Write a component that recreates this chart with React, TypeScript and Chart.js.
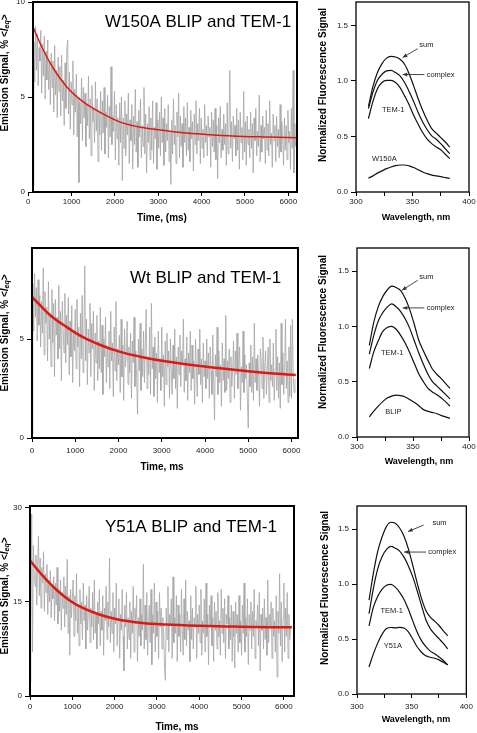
import React, { useEffect, useRef } from "react";
import { Chart, registerables } from "chart.js";

Chart.register(...registerables);

const FONT = "'Liberation Sans', Arial, Helvetica, sans-serif";

// ---------------- kinetic traces (left column) ----------------
const TRACE_STEP_MS = 20;

const W150A_TRACE_START_MS = 110;
const W150A_TRACE = [
  0.3, 7.9, 5.8, 8.7, 6.4, 8.3, 5.6, 7.6, 6.9, 8.5,
  5.2, 7.8, 6.1, 8.2, 4.9, 7.4, 5.9, 8.0, 5.4, 6.8,
  4.6, 7.3, 5.5, 6.9, 4.2, 7.7, 5.1, 6.4, 3.9, 7.1,
  5.3, 6.6, 4.0, 7.2, 4.8, 5.9, 3.5, 6.8, 4.4, 7.5,
  8.0, 4.1, 6.3, 3.3, 5.8, 4.6, 6.9, 3.0, 5.4, 4.2,
  6.2, 2.9, 5.0, 0.5, 4.7, 3.6, 6.0, 2.7, 5.5, 3.9,
  5.2, 2.4, 4.6, 3.5, 6.1, 2.8, 4.9, 1.9, 5.6, 3.7,
  4.4, 2.6, 5.8, 3.2, 4.9, 1.6, 4.3, 3.0, 5.3, 2.2,
  4.8, 3.1, 5.5, 2.0, 4.2, 3.4, 5.1, 1.8, 4.5, 2.9,
  6.6, 2.5, 4.0, 3.2, 5.3, 1.7, 4.6, 2.8, 3.9, 1.4,
  4.7, 2.6, 5.0, 0.6, 3.9, 2.3, 4.8, 1.9, 4.1, 3.0,
  5.2, 1.5, 3.8, 2.7, 4.6, 1.2, 4.0, 2.5, 5.4, 2.1,
  3.7, 1.3, 4.3, 2.9, 4.9, 1.8, 3.5, 2.4, 5.5, 2.0,
  4.1, 1.0, 3.6, 2.6, 4.5, 1.7, 3.9, 2.2, 4.8, 1.5,
  3.4, 2.8, 4.7, 1.2, 3.8, 2.3, 4.2, 1.9, 5.0, 2.6,
  3.9, 1.4, 4.4, 2.1, 3.6, 2.7, 4.6, 1.6, 3.2, 0.4,
  3.8, 2.0, 4.9, 2.5, 3.5, 1.5, 4.2, 2.9, 5.2, 1.8,
  4.0, 2.4, 3.6, 1.3, 4.5, 2.6, 3.9, 1.9, 4.7, 2.2,
  3.4, 1.6, 4.3, 2.8, 3.7, 1.1, 4.1, 2.5, 4.8, 2.0,
  3.6, 2.7, 4.4, 1.5, 3.9, 2.3, 3.3, 1.8, 4.6, 2.6,
  3.5, 1.9, 4.0, 2.9, 3.4, 1.3, 4.2, 2.4, 3.8, 2.1,
  4.4, 1.7, 3.5, 0.7, 3.9, 2.6, 4.5, 1.8, 3.3, 2.2,
  4.1, 2.5, 3.6, 1.4, 4.7, 2.0, 3.2, 6.4, 2.3, 3.7,
  1.6, 4.0, 2.8, 3.5, 1.9, 4.4, 2.2, 3.8, 1.2, 4.2,
  2.6, 3.4, 1.7, 5.3, 2.1, 3.7, 1.4, 4.0, 2.5, 3.3,
  1.8, 4.2, 2.3, 3.6, 1.0, 3.9, 2.7, 4.4, 1.9, 3.2,
  2.4, 5.1, 1.6, 3.5, 2.1, 4.0, 2.8, 3.4, 1.5, 4.3,
  2.2, 3.6, 1.9, 4.8, 2.5, 3.1, 1.3, 4.1, 2.7, 3.5,
  1.6, 4.0, 2.4, 3.3, 1.8, 4.6, 2.1, 3.7, 2.9, 1.4,
  3.9, 2.2, 3.5, 1.7, 4.3, 2.6, 3.2, 1.2, 4.4, 2.3,
  6.4, 1.0, 3.6, 2.4, 3.0,
];
const W150A_FIT_TIME = [110, 350, 580, 890, 1270, 1650, 2120, 2640, 3100, 3640, 4100, 4710, 5550, 6200];
const W150A_FIT = [8.68, 7.46, 6.5, 5.53, 4.74, 4.2, 3.68, 3.39, 3.25, 3.1, 3.03, 2.95, 2.89, 2.85];

const WT_TRACE_START_MS = 0;
const WT_TRACE = [
  0.2, 7.8, 5.4, 8.3, 6.1, 7.6, 4.9, 8.0, 5.7, 7.2,
  4.6, 6.9, 5.3, 8.6, 4.2, 7.4, 5.8, 6.6, 3.9, 7.9,
  5.0, 6.3, 3.6, 7.5, 4.8, 6.8, 3.1, 7.0, 5.2, 6.1,
  4.0, 7.7, 4.5, 6.4, 2.9, 6.9, 5.5, 4.3, 7.3, 3.8,
  6.2, 4.7, 7.1, 3.2, 5.9, 4.1, 6.7, 2.8, 5.4, 4.4,
  6.5, 3.5, 7.0, 4.6, 5.6, 2.6, 6.3, 4.0, 7.2, 3.3,
  5.1, 8.7, 3.9, 6.0, 2.7, 5.5, 4.3, 6.8, 3.1, 5.8,
  4.5, 6.4, 2.4, 5.3, 3.8, 6.2, 2.9, 4.9, 3.5, 6.6,
  3.3, 5.7, 2.2, 5.0, 4.1, 6.1, 2.8, 4.6, 3.6, 5.4,
  2.5, 6.4, 3.9, 4.8, 2.1, 5.6, 3.4, 6.9, 2.9, 4.5,
  3.7, 5.2, 2.3, 6.0, 3.1, 4.7, 1.9, 5.5, 3.6, 4.2,
  5.9, 2.7, 4.6, 3.3, 5.3, 2.0, 4.9, 3.8, 6.1, 2.6,
  4.4, 3.0, 1.2, 5.0, 3.4, 5.8, 2.4, 4.5, 3.1, 5.4,
  2.8, 4.8, 6.5, 2.5, 4.1, 3.2, 5.6, 2.2, 6.8, 3.5,
  4.6, 2.1, 5.1, 3.0, 4.3, 1.8, 5.4, 3.3, 4.0, 2.4,
  5.6, 3.1, 4.2, 1.6, 4.9, 2.7, 5.3, 3.6, 4.4, 2.0,
  5.0, 3.4, 2.2, 4.7, 3.0, 5.5, 2.5, 4.1, 1.5, 4.6,
  3.2, 5.2, 2.6, 4.4, 3.7, 6.0, 2.3, 4.0, 2.9, 5.1,
  1.9, 4.3, 3.3, 5.4, 2.4, 4.7, 3.0, 3.9, 1.7, 5.0,
  3.6, 2.1, 4.5, 3.2, 5.5, 2.7, 4.0, 1.8, 4.8, 3.1,
  3.9, 2.5, 5.0, 3.0, 4.3, 2.0, 4.6, 3.4, 2.2, 5.2,
  2.7, 0.9, 4.2, 3.1, 5.6, 2.2, 4.4, 2.8, 3.7, 1.6,
  4.8, 2.9, 4.0, 2.3, 6.2, 2.4, 3.9, 3.0, 4.5, 1.8,
  4.1, 2.6, 3.5, 4.9, 2.0, 4.4, 3.2, 5.3, 2.5, 3.8,
  4.6, 1.4, 3.6, 2.8, 5.4, 2.3, 4.2, 3.0, 3.7, 1.9,
  0.5, 3.8, 2.6, 4.7, 2.3, 4.1, 1.9, 5.8, 2.8, 4.0,
  2.4, 4.2, 3.1, 1.6, 4.5, 3.9, 2.5, 5.1, 2.0, 3.6,
  4.4, 2.2, 3.4, 4.6, 1.8, 5.0, 2.9, 3.7, 2.6, 4.8,
  1.9, 3.5, 5.5, 2.4, 4.1, 2.0, 3.8, 1.5, 5.8, 2.7,
  4.3, 2.2, 3.4, 6.0, 2.5, 3.9, 1.8, 4.6, 2.1, 5.7,
  2.0, 6.0, 3.1, 2.3, 3.0,
];
const WT_FIT_TIME = [0, 420, 810, 1190, 1580, 2040, 2500, 3120, 3740, 4350, 5050, 5510, 6100];
const WT_FIT = [7.13, 6.2, 5.59, 5.08, 4.7, 4.35, 4.11, 3.86, 3.67, 3.52, 3.36, 3.27, 3.18];

const Y51A_TRACE_START_MS = 0;
const Y51A_TRACE = [
  2.2, 12.0, 29.0, 7.0, 24.0, 19.5, 17.5, 22.5, 14.5, 21.0,
  25.5, 16.0, 22.0, 14.0, 20.5, 18.0, 23.0, 13.5, 19.5, 16.5,
  21.0, 13.0, 18.5, 15.0, 20.0, 12.5, 17.5, 15.5, 19.0, 12.0,
  18.0, 14.5, 20.5, 11.5, 17.0, 13.5, 18.5, 10.5, 16.5, 14.0,
  19.0, 11.0, 17.5, 13.0, 21.8, 10.0, 16.0, 6.5, 17.0, 12.5,
  15.5, 18.5, 9.5, 16.0, 12.0, 19.5, 10.0, 14.5, 8.0, 17.0,
  11.5, 15.0, 9.0, 18.0, 12.0, 14.5, 7.5, 16.0, 10.5, 13.5,
  17.5, 8.5, 14.0, 11.0, 16.5, 9.0, 18.5, 10.0, 13.0, 7.5,
  15.0, 11.5, 17.0, 8.0, 13.5, 10.5, 16.0, 6.5, 14.0, 12.0,
  17.5, 9.0, 15.0, 11.0, 22.0, 8.5, 13.5, 10.0, 16.5, 7.0,
  14.0, 11.5, 18.0, 8.0, 12.5, 15.5, 6.0, 13.0, 10.5, 17.0,
  9.5, 4.0, 14.5, 11.0, 16.5, 7.5, 12.5, 9.0, 15.0, 6.0,
  13.5, 10.0, 17.5, 7.0, 14.0, 11.5, 16.0, 5.5, 12.5, 9.5,
  15.5, 8.0, 13.0, 10.5, 21.0, 7.5, 14.5, 9.0, 16.5, 6.5,
  12.0, 14.5, 8.5, 17.0, 5.0, 13.0, 10.0, 18.0, 7.0, 15.0,
  9.5, 13.5, 6.0, 16.5, 11.0, 14.0, 7.5, 12.5, 10.0, 4.5,
  2.5, 14.0, 9.0, 17.5, 7.0, 13.0, 11.5, 15.5, 6.0, 19.0,
  8.5, 12.5, 10.0, 16.0, 5.5, 14.5, 9.5, 13.0, 7.0, 17.0,
  11.0, 6.5, 15.5, 9.0, 18.5, 8.0, 13.5, 10.5, 12.0, 5.5,
  16.0, 9.0, 14.0, 7.5, 12.5, 11.0, 17.5, 6.0, 13.0, 10.0,
  14.5, 8.5, 17.0, 6.5, 12.0, 10.0, 15.5, 7.0, 18.0, 9.5,
  13.0, 5.0, 14.5, 11.0, 16.0, 8.0, 12.5, 5.5, 15.0, 10.5,
  13.5, 7.5, 16.5, 9.5, 12.0, 6.5, 17.0, 10.0, 14.0, 8.5,
  15.5, 6.0, 13.0, 11.5, 16.0, 7.5, 12.5, 9.0, 14.5, 5.5,
  13.5, 9.5, 4.5, 15.0, 10.0, 13.0, 7.0, 16.0, 8.5, 12.0,
  6.5, 14.5, 10.0, 18.0, 7.0, 12.5, 9.5, 15.5, 5.0, 13.0,
  10.5, 15.0, 7.5, 13.5, 9.5, 17.0, 6.0, 12.0, 11.0, 14.5,
  8.0, 16.5, 4.0, 13.0, 10.5, 14.0, 7.5, 15.5, 9.0, 12.5,
  6.5, 18.5, 8.5, 13.0, 11.0, 15.0, 6.0, 14.0, 9.5, 12.0,
  7.0, 16.0, 3.0, 13.5, 10.0, 19.5, 8.0, 15.0, 5.5, 12.5,
  18.0, 7.0, 14.0, 9.5, 16.5, 6.0, 13.0, 9.0, 11.0,
];
const Y51A_FIT_TIME = [0, 315, 630, 945, 1260, 1655, 2050, 2600, 3230, 4020, 4800, 5670, 6190];
const Y51A_FIT = [21.6, 19.07, 16.9, 15.2, 14.0, 12.95, 12.25, 11.7, 11.4, 11.2, 11.08, 10.97, 10.95];

const TIME_TICKS_MS = [0, 1000, 2000, 3000, 4000, 5000, 6000];
const W150A_SIGNAL_TICKS = [0, 5, 10];
const WT_SIGNAL_TICKS = [0, 5];
const Y51A_SIGNAL_TICKS = [0, 15, 30];

// ---------------- emission spectra (right column) ----------------
const WAVELENGTHS = [311, 315, 319, 323, 327, 331, 335, 339, 343, 347, 351, 355, 359, 363, 367, 371, 375, 379, 383];
const WAVELENGTH_TICKS = [300, 325, 350, 375, 400];
const FLUORESCENCE_TICKS = [0, 0.5, 1.0, 1.5];

const W150A_SUM = [0.77, 0.95, 1.075, 1.155, 1.205, 1.22, 1.215, 1.195, 1.15, 1.065, 0.955, 0.84, 0.736, 0.645, 0.57, 0.53, 0.49, 0.45, 0.405];
const W150A_COMPLEX = [0.75, 0.9, 1.005, 1.06, 1.09, 1.095, 1.075, 1.045, 0.985, 0.905, 0.815, 0.715, 0.63, 0.56, 0.505, 0.475, 0.435, 0.39, 0.345];
const W150A_TEM1 = [0.66, 0.815, 0.93, 0.985, 1.005, 1.005, 0.985, 0.94, 0.865, 0.785, 0.69, 0.61, 0.535, 0.475, 0.435, 0.405, 0.38, 0.34, 0.3];
const W150A_ALONE = [0.125, 0.145, 0.17, 0.19, 0.21, 0.225, 0.237, 0.243, 0.243, 0.235, 0.22, 0.2, 0.18, 0.165, 0.152, 0.145, 0.138, 0.13, 0.122];

const WT_SUM = [0.83, 1.04, 1.18, 1.27, 1.33, 1.365, 1.352, 1.325, 1.255, 1.155, 1.025, 0.88, 0.785, 0.7, 0.62, 0.57, 0.53, 0.485, 0.44];
const WT_COMPLEX = [0.75, 0.92, 1.05, 1.125, 1.175, 1.205, 1.178, 1.135, 1.07, 0.985, 0.875, 0.765, 0.665, 0.575, 0.505, 0.465, 0.425, 0.385, 0.345];
const WT_TEM1 = [0.62, 0.77, 0.87, 0.955, 0.99, 1.0, 0.975, 0.92, 0.85, 0.765, 0.67, 0.575, 0.505, 0.445, 0.41, 0.385, 0.355, 0.32, 0.28];
const WT_BLIP = [0.183, 0.235, 0.28, 0.32, 0.352, 0.37, 0.379, 0.374, 0.362, 0.34, 0.315, 0.285, 0.25, 0.234, 0.223, 0.213, 0.196, 0.182, 0.168];

const Y51A_SUM = [0.853, 1.1, 1.3, 1.43, 1.525, 1.562, 1.553, 1.51, 1.435, 1.32, 1.17, 1.01, 0.87, 0.76, 0.7, 0.663, 0.623, 0.575, 0.53];
const Y51A_COMPLEX = [0.73, 0.96, 1.14, 1.25, 1.315, 1.342, 1.326, 1.3, 1.245, 1.165, 1.065, 0.94, 0.805, 0.675, 0.595, 0.545, 0.503, 0.46, 0.41];
const Y51A_TEM1 = [0.62, 0.79, 0.89, 0.955, 0.99, 0.997, 0.972, 0.925, 0.86, 0.77, 0.665, 0.565, 0.485, 0.43, 0.39, 0.365, 0.336, 0.305, 0.265];
const Y51A_ALONE = [0.246, 0.365, 0.465, 0.545, 0.595, 0.605, 0.602, 0.606, 0.6, 0.565, 0.5, 0.43, 0.38, 0.347, 0.334, 0.325, 0.31, 0.288, 0.265];

// ---------------- layout helpers ----------------
type Box = { cx: number; cy: number; cw: number; ch: number; L: number; T: number; R: number; B: number };
type Label = { text: string; x: number; y: number };
type Arrow = { x1: number; y1: number; x2: number; y2: number };

function drawVerticalTitle(ctx: CanvasRenderingContext2D, x: number, y: number, emission: boolean, text?: string) {
  ctx.save();
  ctx.translate(x, y);
  ctx.rotate(-Math.PI / 2);
  ctx.fillStyle = "#000";
  ctx.textBaseline = "middle";
  ctx.textAlign = "left";
  const bold = `bold 10px ${FONT}`;
  const parts = emission
    ? [
        { t: "Emission Signal, % <", f: bold, dy: 0 },
        { t: "I", f: `italic bold 10px ${FONT}`, dy: 0 },
        { t: "eq", f: `italic bold 7px ${FONT}`, dy: 2.5 },
        { t: ">", f: bold, dy: 0 },
      ]
    : [{ t: text || "", f: bold, dy: 0 }];
  let total = 0;
  for (const p of parts) {
    ctx.font = p.f;
    total += ctx.measureText(p.t).width;
  }
  let px = -total / 2;
  for (const p of parts) {
    ctx.font = p.f;
    ctx.fillText(p.t, px, p.dy);
    px += ctx.measureText(p.t).width;
  }
  ctx.restore();
}

function axisScales(box: Box, x: any, y: any, tickPadX: number) {
  const grid = { display: true, drawOnChartArea: false, drawTicks: true, tickLength: 4, color: "#000", lineWidth: 1 };
  return {
    x: {
      type: "linear",
      min: x.min,
      max: x.max,
      afterFit: (s: any) => {
        s.height = box.cy + box.ch - box.B;
      },
      afterBuildTicks: (s: any) => {
        s.ticks = x.ticks.map((v: number) => ({ value: v }));
      },
      border: { display: false },
      grid,
      ticks: {
        autoSkip: false,
        maxRotation: 0,
        padding: tickPadX,
        color: "#222",
        font: { family: FONT, size: 8 },
        callback: x.cb,
      },
    },
    y: {
      type: "linear",
      min: y.min,
      max: y.max,
      afterFit: (s: any) => {
        s.width = box.L - box.cx;
      },
      afterBuildTicks: (s: any) => {
        s.ticks = y.ticks.map((v: number) => ({ value: v }));
      },
      border: { display: false },
      grid: { ...grid, tickLength: 5 },
      ticks: {
        autoSkip: false,
        padding: 3,
        color: "#222",
        font: { family: FONT, size: 8 },
        callback: y.cb,
      },
    },
  };
}

type TimeSpec = {
  box: Box;
  trace: number[];
  traceStart: number;
  fitTime: number[];
  fitValues: number[];
  xMin: number;
  xMax: number;
  yMax: number;
  yTicks: number[];
  fitWidth: number;
  heading: string;
  headingX: number;
  headingY: number;
  xTitle: string;
  xTitleX: number;
  xTitleY: number;
  yTitleY: number;
  tickPadX: number;
};

function timeConfig(s: TimeSpec): any {
  const b = s.box;
  const tracePts = s.trace.map((v, i) => ({ x: s.traceStart + i * TRACE_STEP_MS, y: v }));
  const fitPts = s.fitTime.map((t, i) => ({ x: t, y: s.fitValues[i] }));
  const decor = {
    id: "decor",
    afterDatasetsDraw(chart: any) {
      const { ctx, chartArea: a } = chart;
      ctx.save();
      ctx.strokeStyle = "#000";
      ctx.lineWidth = 2;
      ctx.strokeRect(a.left, a.top, a.right - a.left, a.bottom - a.top);
      ctx.restore();
    },
    afterDraw(chart: any) {
      const ctx = chart.ctx as CanvasRenderingContext2D;
      ctx.save();
      ctx.fillStyle = "#000";
      ctx.font = `17px ${FONT}`;
      ctx.textAlign = "left";
      ctx.textBaseline = "middle";
      ctx.fillText(s.heading, s.headingX - b.cx, s.headingY - b.cy);
      ctx.font = `bold 10px ${FONT}`;
      ctx.textAlign = "center";
      ctx.fillText(s.xTitle, s.xTitleX - b.cx, s.xTitleY - b.cy);
      ctx.restore();
      drawVerticalTitle(ctx, 5 - b.cx, s.yTitleY - b.cy, true);
    },
  };
  return {
    type: "line",
    data: {
      datasets: [
        { data: fitPts, borderColor: "#dd1a12", borderWidth: s.fitWidth, pointRadius: 0, cubicInterpolationMode: "monotone", fill: false },
        { data: tracePts, borderColor: "#a4a4a4", borderWidth: 0.8, pointRadius: 0, tension: 0, fill: false },
      ],
    },
    options: {
      responsive: false,
      animation: false,
      devicePixelRatio: 1,
      events: [],
      layout: { padding: { left: 0, top: b.T - b.cy, right: b.cx + b.cw - b.R, bottom: 0 } },
      plugins: { legend: { display: false }, tooltip: { enabled: false }, title: { display: false } },
      scales: axisScales(
        b,
        { min: s.xMin, max: s.xMax, ticks: TIME_TICKS_MS, cb: (v: any) => String(v) },
        { min: 0, max: s.yMax, ticks: s.yTicks, cb: (v: any) => String(v) },
        s.tickPadX
      ),
    },
    plugins: [decor],
  };
}

type SpecSpec = {
  box: Box;
  series: number[][];
  labels: Label[];
  arrows: Arrow[];
  xTitleX: number;
  xTitleY: number;
  yTitleX: number;
  yTitleY: number;
  tickPadX: number;
};

function spectrumConfig(s: SpecSpec): any {
  const b = s.box;
  const decor = {
    id: "decor",
    afterDatasetsDraw(chart: any) {
      const { ctx, chartArea: a } = chart;
      ctx.save();
      ctx.strokeStyle = "#000";
      ctx.lineWidth = 1.3;
      ctx.strokeRect(a.left, a.top, a.right - a.left, a.bottom - a.top);
      ctx.restore();
    },
    afterDraw(chart: any) {
      const ctx = chart.ctx as CanvasRenderingContext2D;
      const xs = chart.scales.x;
      const ys = chart.scales.y;
      ctx.save();
      ctx.fillStyle = "#222";
      ctx.font = `7.5px ${FONT}`;
      ctx.textAlign = "left";
      ctx.textBaseline = "middle";
      for (const l of s.labels) ctx.fillText(l.text, xs.getPixelForValue(l.x), ys.getPixelForValue(l.y));
      ctx.strokeStyle = "#333";
      ctx.lineWidth = 0.9;
      for (const ar of s.arrows) {
        const x1 = xs.getPixelForValue(ar.x1), y1 = ys.getPixelForValue(ar.y1);
        const x2 = xs.getPixelForValue(ar.x2), y2 = ys.getPixelForValue(ar.y2);
        const ang = Math.atan2(y2 - y1, x2 - x1);
        ctx.beginPath();
        ctx.moveTo(x1, y1);
        ctx.lineTo(x2, y2);
        ctx.stroke();
        ctx.beginPath();
        ctx.moveTo(x2, y2);
        ctx.lineTo(x2 - 5 * Math.cos(ang - 0.4), y2 - 5 * Math.sin(ang - 0.4));
        ctx.lineTo(x2 - 5 * Math.cos(ang + 0.4), y2 - 5 * Math.sin(ang + 0.4));
        ctx.closePath();
        ctx.fillStyle = "#333";
        ctx.fill();
      }
      ctx.fillStyle = "#000";
      ctx.font = `bold 9px ${FONT}`;
      ctx.textAlign = "center";
      ctx.fillText("Wavelength, nm", s.xTitleX - b.cx, s.xTitleY - b.cy);
      ctx.restore();
      drawVerticalTitle(ctx, s.yTitleX - b.cx, s.yTitleY - b.cy, false, "Normalized Fluorescence Signal");
    },
  };
  return {
    type: "line",
    data: {
      datasets: s.series.map((vals) => ({
        data: WAVELENGTHS.map((w, i) => ({ x: w, y: vals[i] })),
        borderColor: "#111",
        borderWidth: 1.2,
        pointRadius: 0,
        cubicInterpolationMode: "monotone",
        fill: false,
      })),
    },
    options: {
      responsive: false,
      animation: false,
      devicePixelRatio: 1,
      events: [],
      layout: { padding: { left: 0, top: b.T - b.cy, right: b.cx + b.cw - b.R, bottom: 0 } },
      plugins: { legend: { display: false }, tooltip: { enabled: false }, title: { display: false } },
      scales: axisScales(
        b,
        { min: 300, max: 400, ticks: WAVELENGTH_TICKS, cb: (v: any) => (v % 50 === 0 ? String(v) : "") },
        { min: 0, max: 1.71, ticks: FLUORESCENCE_TICKS, cb: (v: any) => Number(v).toFixed(1) },
        s.tickPadX
      ),
    },
    plugins: [decor],
  };
}

function ChartCanvas({ box, config }: { box: Box; config: () => any }) {
  const ref = useRef<HTMLCanvasElement>(null);
  useEffect(() => {
    const chart = new Chart(ref.current as HTMLCanvasElement, config());
    return () => chart.destroy();
  }, []);
  return (
    <canvas
      ref={ref}
      width={box.cw}
      height={box.ch}
      style={{ position: "absolute", left: box.cx, top: box.cy, width: box.cw, height: box.ch }}
    />
  );
}

const BOX1: Box = { cx: 0, cy: -6, cw: 309, ch: 238, L: 33, T: 2, R: 297, B: 192 };
const BOX2: Box = { cx: 312, cy: -6, cw: 165, ch: 238, L: 356, T: 2, R: 469, B: 192 };
const BOX3: Box = { cx: 0, cy: 240, cw: 310, ch: 235, L: 32, T: 248, R: 298, B: 438 };
const BOX4: Box = { cx: 312, cy: 240, cw: 165, ch: 235, L: 357, T: 248, R: 469, B: 437 };
const BOX5: Box = { cx: 0, cy: 498, cw: 306, ch: 235, L: 30, T: 506, R: 294, B: 696 };
const BOX6: Box = { cx: 312, cy: 498, cw: 165, ch: 235, L: 357, T: 506, R: 469, B: 694 };

export default function App() {
  return (
    <div style={{ position: "absolute", left: 0, top: 0, width: 477, height: 733, overflow: "hidden", background: "#fff" }}>
      <ChartCanvas
        box={BOX1}
        config={() =>
          timeConfig({
            box: BOX1, trace: W150A_TRACE, traceStart: W150A_TRACE_START_MS, fitTime: W150A_FIT_TIME, fitValues: W150A_FIT,
            xMin: 110, xMax: 6200, yMax: 10, yTicks: W150A_SIGNAL_TICKS, fitWidth: 1.5,
            heading: "W150A BLIP and TEM-1", headingX: 105, headingY: 22,
            xTitle: "Time, (ms)", xTitleX: 162, xTitleY: 218, yTitleY: 73, tickPadX: 1,
          })
        }
      />
      <ChartCanvas
        box={BOX2}
        config={() =>
          spectrumConfig({
            box: BOX2,
            series: [W150A_SUM, W150A_COMPLEX, W150A_TEM1, W150A_ALONE],
            labels: [
              { text: "sum", x: 356, y: 1.32 },
              { text: "complex", x: 362.5, y: 1.057 },
              { text: "TEM-1", x: 323, y: 0.742 },
              { text: "W150A", x: 314.2, y: 0.3 },
            ],
            arrows: [
              { x1: 354.6, y1: 1.29, x2: 341.3, y2: 1.21 },
              { x1: 360.5, y1: 1.057, x2: 341.3, y2: 1.057 },
            ],
            xTitleX: 416, xTitleY: 218, yTitleX: 323, yTitleY: 85, tickPadX: 1,
          })
        }
      />
      <ChartCanvas
        box={BOX3}
        config={() =>
          timeConfig({
            box: BOX3, trace: WT_TRACE, traceStart: WT_TRACE_START_MS, fitTime: WT_FIT_TIME, fitValues: WT_FIT,
            xMin: 0, xMax: 6150, yMax: 9.6, yTicks: WT_SIGNAL_TICKS, fitWidth: 2.5,
            heading: "Wt BLIP and TEM-1", headingX: 130, headingY: 278,
            xTitle: "Time, ms", xTitleX: 162, xTitleY: 467, yTitleY: 333, tickPadX: 4,
          })
        }
      />
      <ChartCanvas
        box={BOX4}
        config={() =>
          spectrumConfig({
            box: BOX4,
            series: [WT_SUM, WT_COMPLEX, WT_TEM1, WT_BLIP],
            labels: [
              { text: "sum", x: 355.6, y: 1.448 },
              { text: "complex", x: 362.2, y: 1.168 },
              { text: "TEM-1", x: 321.4, y: 0.762 },
              { text: "BLIP", x: 325.3, y: 0.229 },
            ],
            arrows: [
              { x1: 354.2, y1: 1.418, x2: 340.2, y2: 1.328 },
              { x1: 360.1, y1: 1.168, x2: 340.8, y2: 1.168 },
            ],
            xTitleX: 419, xTitleY: 462, yTitleX: 323, yTitleY: 332, tickPadX: 1,
          })
        }
      />
      <ChartCanvas
        box={BOX5}
        config={() =>
          timeConfig({
            box: BOX5, trace: Y51A_TRACE, traceStart: Y51A_TRACE_START_MS, fitTime: Y51A_FIT_TIME, fitValues: Y51A_FIT,
            xMin: 0, xMax: 6240, yMax: 30.3, yTicks: Y51A_SIGNAL_TICKS, fitWidth: 2.5,
            heading: "Y51A BLIP and TEM-1", headingX: 105, headingY: 527,
            xTitle: "Time, ms", xTitleX: 177, xTitleY: 727, yTitleY: 596, tickPadX: 2,
          })
        }
      />
      <ChartCanvas
        box={BOX6}
        config={() =>
          spectrumConfig({
            box: BOX6,
            series: [Y51A_SUM, Y51A_COMPLEX, Y51A_TEM1, Y51A_ALONE],
            labels: [
              { text: "sum", x: 369, y: 1.552 },
              { text: "complex", x: 365.2, y: 1.291 },
              { text: "TEM-1", x: 321.4, y: 0.757 },
              { text: "Y51A", x: 324.4, y: 0.441 },
            ],
            arrows: [
              { x1: 361, y1: 1.537, x2: 346.7, y2: 1.477 },
              { x1: 363.1, y1: 1.291, x2: 343.1, y2: 1.291 },
            ],
            xTitleX: 416, xTitleY: 720, yTitleX: 325, yTitleY: 588, tickPadX: 4,
          })
        }
      />
    </div>
  );
}
